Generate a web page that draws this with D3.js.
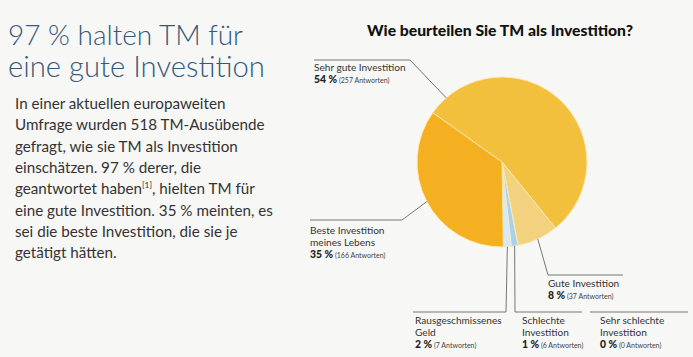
<!DOCTYPE html>
<html><head><meta charset="utf-8">
<script src="https://cdn.jsdelivr.net/npm/d3@7"></script>
<style>
html,body{margin:0;padding:0;background:#f7f7f5;}
svg{display:block;}
</style></head>
<body><svg id="c" width="693" height="357"></svg>
<script>
// ---- data ----
const categories = ["Sehr gute Investition","Gute Investition","Sehr schlechte Investition","Schlechte Investition","Rausgeschmissenes Geld","Beste Investition meines Lebens"];
const answers = [257, 37, 0, 6, 7, 166];
const percentLabels = ["54 %","8 %","0 %","1 %","2 %","35 %"];
const labelLines = [["Sehr gute Investition"],["Gute Investition"],["Sehr schlechte","Investition"],["Schlechte","Investition"],["Rausgeschmissenes","Geld"],["Beste Investition","meines Lebens"]];
const headline = ["97 % halten TM für","eine gute Investition"];
const bodyLines = ["In einer aktuellen europaweiten","Umfrage wurden 518 TM-Ausübende","gefragt, wie sie TM als Investition","einschätzen. 97 % derer, die","geantwortet haben|[1]|, hielten TM für","eine gute Investition. 35 % meinten, es","sei die beste Investition, die sie je","getätigt hätten."];
const chartTitle = "Wie beurteilen Sie TM als Investition?";

// ---- style / layout ----
const colors = ["#f2c03c","#f3d27f","#cfe5f5","#a6d1ef","#d4eaf8","#f4b021"];
const cx = 502, cy = 162, R = 85;
const startAngle = -54.6 * Math.PI/180;
const labelLayout = [
  {tx:314, ty:71, edgeAngle:-41, pts:[[410,60],[314,60]]},
  {tx:548, ty:287, edgeAngle:null, pts:[[548,275],[623,275]]},
  {tx:600, ty:324, edgeAngle:"none", pts:[[590,312],[688,312]]},
  {tx:522, ty:324, edgeAngle:null, pts:[[515,312],[582,312]]},
  {tx:415, ty:324, edgeAngle:null, pts:[[506,312],[413,312]]},
  {tx:310, ty:234, edgeAngle:null, pts:[[402,220],[310,220]]}
];

const svg = d3.select("#c");
const font = "Lato, 'Open Sans', sans-serif";

function fit(sel, target){
  const n = sel.node();
  const fs = parseFloat(sel.attr("font-size"));
  const w = n.getComputedTextLength();
  sel.attr("font-size", (fs*target/w).toFixed(2));
}

// headline
const hl = svg.append("g");
headline.forEach((t,i)=>{
  const s = hl.append("text").attr("x",8).attr("y",[45,77][i]).attr("font-family",font)
    .attr("font-weight",300).attr("font-size",28).attr("fill","#36597b").text(t);
  fit(s, [235,257][i]);
});

// body
const bodyG = svg.append("g").attr("font-family",font).attr("fill","#333").attr("font-size",15);
let bodyFs = 15;
{
  const probe = bodyG.append("text").attr("font-size",15).text(bodyLines[5]);
  bodyFs = 15*258/probe.node().getComputedTextLength();
  probe.remove();
}
bodyLines.forEach((t,i)=>{
  const parts = t.split("|");
  const s = bodyG.append("text").attr("x",15).attr("y",109 + i*21.3).attr("font-size",bodyFs.toFixed(2));
  parts.forEach((p,j)=>{
    if(j===1) s.append("tspan").attr("font-size",(bodyFs*0.55).toFixed(2)).attr("dy",-6).text(p);
    else if(j===2) s.append("tspan").attr("dy",6).text(p);
    else s.append("tspan").text(p);
  });
});

// chart title
const ct = svg.append("text").attr("x",500).attr("y",36).attr("text-anchor","middle")
  .attr("font-family",font).attr("font-weight",900).attr("font-size",15).attr("fill","#111").text(chartTitle);
fit(ct, 266);

// pie
const pie = d3.pie().value(d=>d).sort(null).startAngle(startAngle).endAngle(startAngle+2*Math.PI);
const arcs = pie(answers);
const arc = d3.arc().innerRadius(0).outerRadius(R);
const pg = svg.append("g").attr("transform",`translate(${cx},${cy})`);
pg.selectAll("path").data(arcs).join("path")
  .attr("d",arc).attr("fill",(d,i)=>colors[i])
  .attr("stroke","#fbeab5").attr("stroke-width",0.9);

// leaders + labels
const lg = svg.append("g");
const tg = svg.append("g").attr("font-family",font).attr("fill","#333");
arcs.forEach((a,i)=>{
  const L = labelLayout[i];
  let pts = [];
  if(L.edgeAngle !== "none"){
    const ang = L.edgeAngle===null ? (a.startAngle+a.endAngle)/2 : L.edgeAngle*Math.PI/180;
    pts.push([cx + R*Math.sin(ang), cy - R*Math.cos(ang)]);
  }
  pts = pts.concat(L.pts);
  lg.append("path").attr("d", d3.line()(pts)).attr("fill","none").attr("stroke","#555").attr("stroke-width",0.8);
  const lines = labelLines[i];
  lines.forEach((t,k)=>{
    tg.append("text").attr("x",L.tx).attr("y",L.ty + k*12).attr("font-size",10.1).text(t);
  });
  const pt = tg.append("text").attr("x",L.tx).attr("y",L.ty + lines.length*12).attr("font-size",10.4);
  pt.append("tspan").attr("font-weight",900).attr("fill","#222").text(percentLabels[i]);
  pt.append("tspan").attr("font-size",7).attr("fill","#444").text(" (" + answers[i] + " Antworten)");
});
</script>
</body></html>
